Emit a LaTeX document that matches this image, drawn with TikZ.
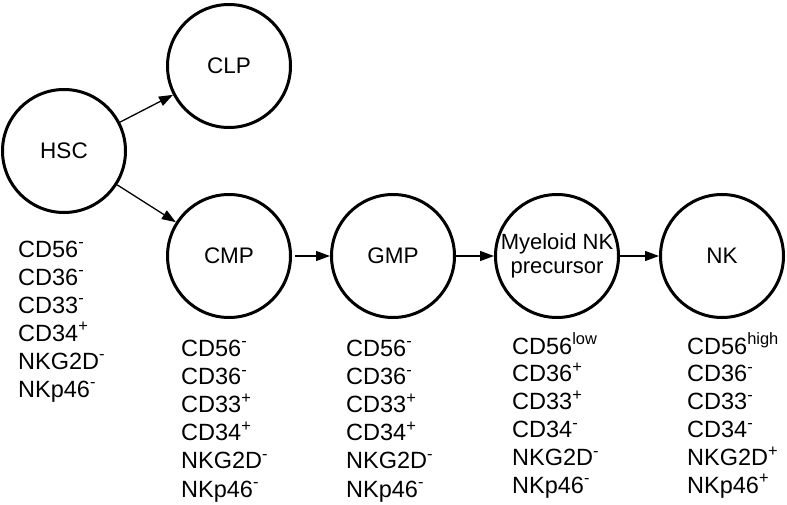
\documentclass[tikz,border=0pt]{standalone}
\usepackage{fontspec}
\setmainfont{Liberation Sans}
\usetikzlibrary{arrows.meta}
\tikzset{
  cell/.style={circle, draw=black, line width=3pt, minimum size=123pt, inner sep=0pt, font=\fontsize{22.5}{25}\selectfont, align=center},
  link/.style={line width=1.3pt, -{Triangle[length=14pt,width=10pt]}},
  marker/.style={anchor=base west, inner sep=0pt, font=\fontsize{23.5}{26}\selectfont}
}
\newcommand{\supx}[1]{\textsuperscript{#1}}
\begin{document}
\begin{tikzpicture}[x=1pt,y=-1pt]
\useasboundingbox (0,0) rectangle (787,505);
\node[cell] (hsc) at (64,151) {HSC};
\node[cell] (clp) at (229,66) {CLP};
\node[cell] (cmp) at (229,256) {CMP};
\node[cell] (gmp) at (393,256) {GMP};
\node[cell, font=\fontsize{22}{25}\selectfont] (mnk) at (557,256) {Myeloid NK\\[-1pt]precursor};
\node[cell] (nk) at (722,256) {NK};
\draw[link] (hsc) -- (clp);
\draw[link] (hsc) -- (cmp);
\draw[link] ([xshift=3pt]cmp.east) -- (gmp);
\draw[link] (gmp) -- (mnk);
\draw[link] (mnk) -- (nk);
% marker lists
\foreach \t [count=\i] in {CD56\supx{-},CD36\supx{-},CD33\supx{-},CD34\supx{+},NKG2D\supx{-},NKp46\supx{-}}
  \node[marker] (h\i) at (18,{257+28*(\i-1)}) {\t};
\foreach \t [count=\i] in {CD56\supx{-},CD36\supx{-},CD33\supx{+},CD34\supx{+},NKG2D\supx{-},NKp46\supx{-}}
  \node[marker] (c\i) at (181,{356+28.2*(\i-1)}) {\t};
\foreach \t [count=\i] in {CD56\supx{-},CD36\supx{-},CD33\supx{+},CD34\supx{+},NKG2D\supx{-},NKp46\supx{-}}
  \node[marker] (g\i) at (346,{356+28.2*(\i-1)}) {\t};
\foreach \t [count=\i] in {CD56\supx{low},CD36\supx{+},CD33\supx{+},CD34\supx{-},NKG2D\supx{-},NKp46\supx{-}}
  \node[marker] (m\i) at (512,{354+27.8*(\i-1)}) {\t};
\foreach \t [count=\i] in {CD56\supx{high},CD36\supx{-},CD33\supx{-},CD34\supx{-},NKG2D\supx{+},NKp46\supx{+}}
  \node[marker] (n\i) at (687,{354+27.8*(\i-1)}) {\t};
\end{tikzpicture}
\end{document}
